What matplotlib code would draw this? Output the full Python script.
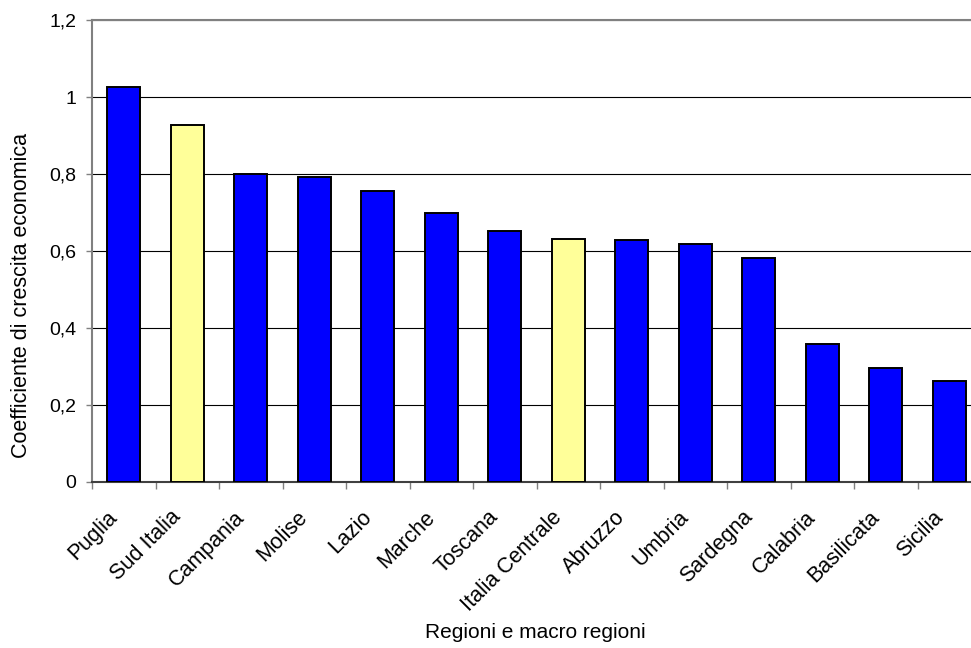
import matplotlib.pyplot as plt
import matplotlib.transforms as mtransforms
import numpy as np

plt.rcParams['font.family'] = ['Liberation Sans', 'DejaVu Sans']

regioni = ['Puglia', 'Sud Italia', 'Campania', 'Molise', 'Lazio', 'Marche', 'Toscana',
           'Italia Centrale', 'Abruzzo', 'Umbria', 'Sardegna', 'Calabria', 'Basilicata', 'Sicilia']
coefficienti = [1.027, 0.927, 0.799, 0.793, 0.756, 0.698, 0.653,
                0.631, 0.629, 0.618, 0.583, 0.359, 0.295, 0.262]
macro = ['Sud Italia', 'Italia Centrale']

colori = ['#FFFF99' if r in macro else '#0000FF' for r in regioni]

fig = plt.figure(figsize=(9.71, 6.48), dpi=100)
ax = fig.add_axes([92 / 971, 1 - 481.7 / 648, 889 / 971, (481.7 - 20.3) / 648])

x = np.arange(len(regioni))
ax.bar(x, coefficienti, width=0.52, color=colori, edgecolor='black', linewidth=1.4, zorder=3)

ax.set_xlim(-0.5, len(regioni) - 0.5)
ax.set_ylim(0, 1.2)
ax.set_yticks(np.arange(0, 1.21, 0.2))
ax.set_yticklabels(['0', '0,2', '0,4', '0,6', '0,8', '1', '1,2'], fontsize=14)
ax.yaxis.grid(True, color='black', linewidth=0.8, zorder=0)

ax.set_xticks(x)
ax.set_xticklabels(regioni, rotation=45, ha='right', va='top', rotation_mode='anchor', fontsize=15.5)
ax.tick_params(axis='x', which='major', length=0, pad=18)
shift = mtransforms.ScaledTranslation(-17 / 100, 0, fig.dpi_scale_trans)
for lab in ax.get_xticklabels():
    lab.set_transform(lab.get_transform() + shift)
ax.set_xticks(np.arange(-0.5, len(regioni)), minor=True)
ax.tick_params(axis='x', which='minor', length=5, color='#808080', width=1)
ax.tick_params(axis='y', length=4.3, color='#808080', width=1, pad=7)

for s in ['left', 'top', 'bottom']:
    ax.spines[s].set_color('#808080')
    ax.spines[s].set_linewidth(1.5)
ax.spines['bottom'].set_color('#404040')
ax.spines['right'].set_visible(False)

ax.set_ylabel('Coefficiente di crescita economica', fontsize=15.5, va='center')
ax.yaxis.set_label_coords(-(92 - 22) / 889, (481.7 - 295) / 461.4)
ax.set_xlabel('Regioni e macro regioni', fontsize=15, va='center')
ax.xaxis.set_label_coords((535 - 92) / 889, -(633 - 481.7) / 461.4)

fig.savefig('out.png', dpi=100)
